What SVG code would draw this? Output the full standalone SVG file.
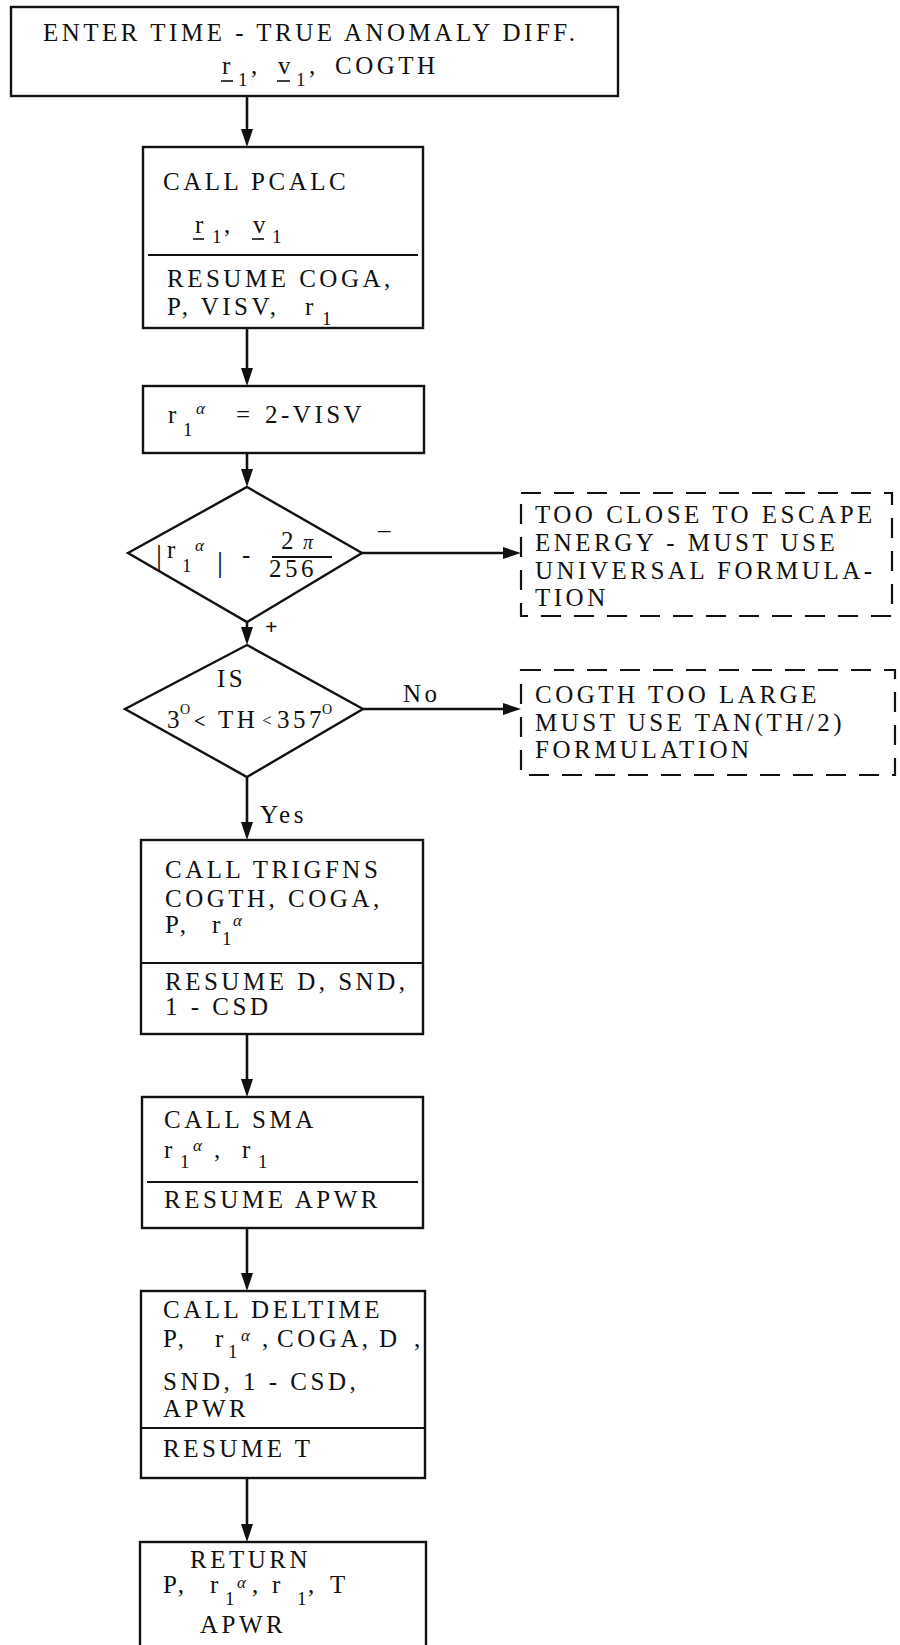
<svg xmlns="http://www.w3.org/2000/svg" width="900" height="1645" viewBox="0 0 900 1645">
<defs>
<style>
.box{fill:none;stroke:#111;stroke-width:2.4}
.dash{fill:none;stroke:#111;stroke-width:2.2;stroke-dasharray:20 13}
.dia{fill:none;stroke:#111;stroke-width:2.4;stroke-linejoin:miter}
.div{stroke:#111;stroke-width:2.2}
.ul{stroke:#111;stroke-width:1.6}
.t{font-family:"Liberation Serif",serif;font-size:25px;letter-spacing:3.5px;fill:#111}
.sub{font-size:19px;letter-spacing:0}
.sup{font-size:17px;font-style:italic;letter-spacing:0}
.deg{font-size:14px;letter-spacing:0}
.bar{font-family:"Liberation Serif",serif;font-size:30px;fill:#111}
.conn{stroke:#111;stroke-width:2.6;fill:none;marker-end:url(#arr)}
</style>
<marker id="arr" viewBox="0 0 18 12" refX="10" refY="6" markerWidth="18" markerHeight="12" markerUnits="userSpaceOnUse" orient="auto">
<path d="M0,0 L18,6 L0,12 z" fill="#111"/>
</marker>
</defs>
<rect width="900" height="1645" fill="#fff"/>

<g id="connectors">
<line class="conn" x1="247" y1="96" x2="247" y2="139"/>
<line class="conn" x1="247" y1="328" x2="247" y2="378"/>
<line class="conn" x1="247" y1="453" x2="247" y2="479"/>
<line class="conn" x1="362" y1="553" x2="513" y2="553"/>
<line class="conn" x1="247" y1="622" x2="247" y2="637"/>
<line class="conn" x1="363" y1="709" x2="513" y2="709"/>
<line class="conn" x1="247" y1="777" x2="247" y2="832"/>
<line class="conn" x1="247" y1="1034" x2="247" y2="1089"/>
<line class="conn" x1="247" y1="1228" x2="247" y2="1283"/>
<line class="conn" x1="247" y1="1478" x2="247" y2="1534"/>
<text class="t" x="378" y="538">–</text>
<text class="t" x="265" y="634" style="font-size:22px;font-weight:bold">+</text>
<text class="t" x="403" y="702">No</text>
<text class="t" x="260" y="823">Yes</text>
</g>

<g id="n-enter">
<rect class="box" x="11" y="7" width="607" height="89"/>
<text class="t" x="43" y="41">ENTER TIME - TRUE ANOMALY DIFF.</text>
<text class="t" y="74"><tspan x="222">r</tspan><tspan class="sub" x="238" y="86">1</tspan><tspan x="251" y="74">,</tspan><tspan x="278">v</tspan><tspan class="sub" x="296" y="86">1</tspan><tspan x="309" y="74">,</tspan><tspan x="335">COGTH</tspan></text>
<line class="ul" x1="221" y1="81" x2="233" y2="81"/>
<line class="ul" x1="277" y1="81" x2="290" y2="81"/>
</g>

<g id="n-pcalc">
<rect class="box" x="143" y="147" width="280" height="181"/>
<text class="t" x="163" y="190">CALL PCALC</text>
<text class="t" y="233"><tspan x="195">r</tspan><tspan class="sub" x="212" y="243">1</tspan><tspan x="224" y="233">,</tspan><tspan x="253">v</tspan><tspan class="sub" x="272" y="243">1</tspan></text>
<line class="ul" x1="193" y1="239" x2="204" y2="239"/>
<line class="ul" x1="252" y1="239" x2="264" y2="239"/>
<line class="div" x1="148" y1="255" x2="418" y2="255"/>
<text class="t" x="167" y="287">RESUME COGA,</text>
<text class="t" y="315"><tspan x="167">P, VISV,</tspan><tspan x="305">r</tspan><tspan class="sub" x="322" y="325">1</tspan></text>
</g>

<g id="n-alpha">
<rect class="box" x="143" y="386" width="281" height="67"/>
<text class="t" y="423"><tspan x="168">r</tspan><tspan class="sub" x="183" y="436">1</tspan><tspan class="sup" x="196" y="414">α</tspan><tspan x="236" y="423">=</tspan><tspan x="265">2-VISV</tspan></text>
</g>

<g id="n-test1">
<polygon class="dia" points="247,487 362,553 247,622 128,553"/>
<text class="bar" x="156" y="565">|</text>
<text class="t" y="558"><tspan x="167">r</tspan><tspan class="sub" x="182" y="572">1</tspan><tspan class="sup" x="195" y="551">α</tspan></text>
<text class="bar" x="217" y="572">|</text>
<text class="t" x="242" y="563">-</text>
<text class="t" y="549"><tspan x="281">2</tspan><tspan class="sup" x="303" style="font-size:20px">π</tspan></text>
<line class="div" x1="272" y1="557" x2="332" y2="557"/>
<text class="t" x="269" y="577">256</text>
</g>

<g id="n-test2">
<polygon class="dia" points="247,645 363,709 247,777 125,709"/>
<text class="t" x="217" y="687">IS</text>
<text class="t" y="728"><tspan x="167">3</tspan><tspan class="deg" x="180" y="714">O</tspan><tspan x="194" y="728" style="font-weight:bold;font-size:20px">&lt;</tspan><tspan x="218">TH</tspan><tspan x="262" y="726" style="font-size:17px">&lt;</tspan><tspan x="277" y="728">357</tspan><tspan class="deg" x="322" y="714">O</tspan></text>
</g>

<g id="n-escape">
<rect class="dash" x="521" y="493" width="371" height="123"/>
<text class="t" x="535" y="523">TOO CLOSE TO ESCAPE</text>
<text class="t" x="535" y="551">ENERGY - MUST USE</text>
<text class="t" x="535" y="579">UNIVERSAL FORMULA-</text>
<text class="t" x="535" y="606">TION</text>
</g>

<g id="n-cogth">
<rect class="dash" x="521" y="670" width="374" height="105"/>
<text class="t" x="535" y="703">COGTH TOO LARGE</text>
<text class="t" x="535" y="731">MUST USE TAN(TH/2)</text>
<text class="t" x="535" y="758">FORMULATION</text>
</g>

<g id="n-trigfns">
<rect class="box" x="141" y="840" width="282" height="194"/>
<text class="t" x="165" y="878">CALL TRIGFNS</text>
<text class="t" x="165" y="907">COGTH, COGA,</text>
<text class="t" y="933"><tspan x="165">P,</tspan><tspan x="212">r</tspan><tspan class="sub" x="222" y="945">1</tspan><tspan class="sup" x="233" y="926">α</tspan></text>
<line class="div" x1="141" y1="963" x2="423" y2="963"/>
<text class="t" x="165" y="990">RESUME D, SND,</text>
<text class="t" x="165" y="1015">1 - CSD</text>
</g>

<g id="n-sma">
<rect class="box" x="142" y="1097" width="281" height="131"/>
<text class="t" x="164" y="1128">CALL SMA</text>
<text class="t" y="1158"><tspan x="164">r</tspan><tspan class="sub" x="180" y="1168">1</tspan><tspan class="sup" x="193" y="1151">α</tspan><tspan x="214" y="1158">,</tspan><tspan x="242">r</tspan><tspan class="sub" x="258" y="1168">1</tspan></text>
<line class="div" x1="147" y1="1182" x2="418" y2="1182"/>
<text class="t" x="164" y="1208">RESUME APWR</text>
</g>

<g id="n-deltime">
<rect class="box" x="141" y="1291" width="284" height="187"/>
<text class="t" x="163" y="1318">CALL DELTIME</text>
<text class="t" y="1347"><tspan x="163">P,</tspan><tspan x="215">r</tspan><tspan class="sub" x="228" y="1358">1</tspan><tspan class="sup" x="241" y="1341">α</tspan><tspan x="262" y="1347">,</tspan><tspan x="277">COGA,</tspan><tspan x="379">D</tspan><tspan x="414">,</tspan></text>
<text class="t" x="163" y="1390">SND, 1 - CSD,</text>
<text class="t" x="163" y="1417">APWR</text>
<line class="div" x1="141" y1="1428" x2="425" y2="1428"/>
<text class="t" x="163" y="1457">RESUME T</text>
</g>

<g id="n-return">
<rect class="box" x="140" y="1542" width="286" height="130"/>
<text class="t" x="190" y="1568">RETURN</text>
<text class="t" y="1593"><tspan x="163">P,</tspan><tspan x="210">r</tspan><tspan class="sub" x="225" y="1605">1</tspan><tspan class="sup" x="237" y="1588">α</tspan><tspan x="252" y="1593">,</tspan><tspan x="272">r</tspan><tspan class="sub" x="297" y="1605">1</tspan><tspan x="308" y="1593">,</tspan><tspan x="330">T</tspan></text>
<text class="t" x="200" y="1633">APWR</text>
</g>
</svg>
